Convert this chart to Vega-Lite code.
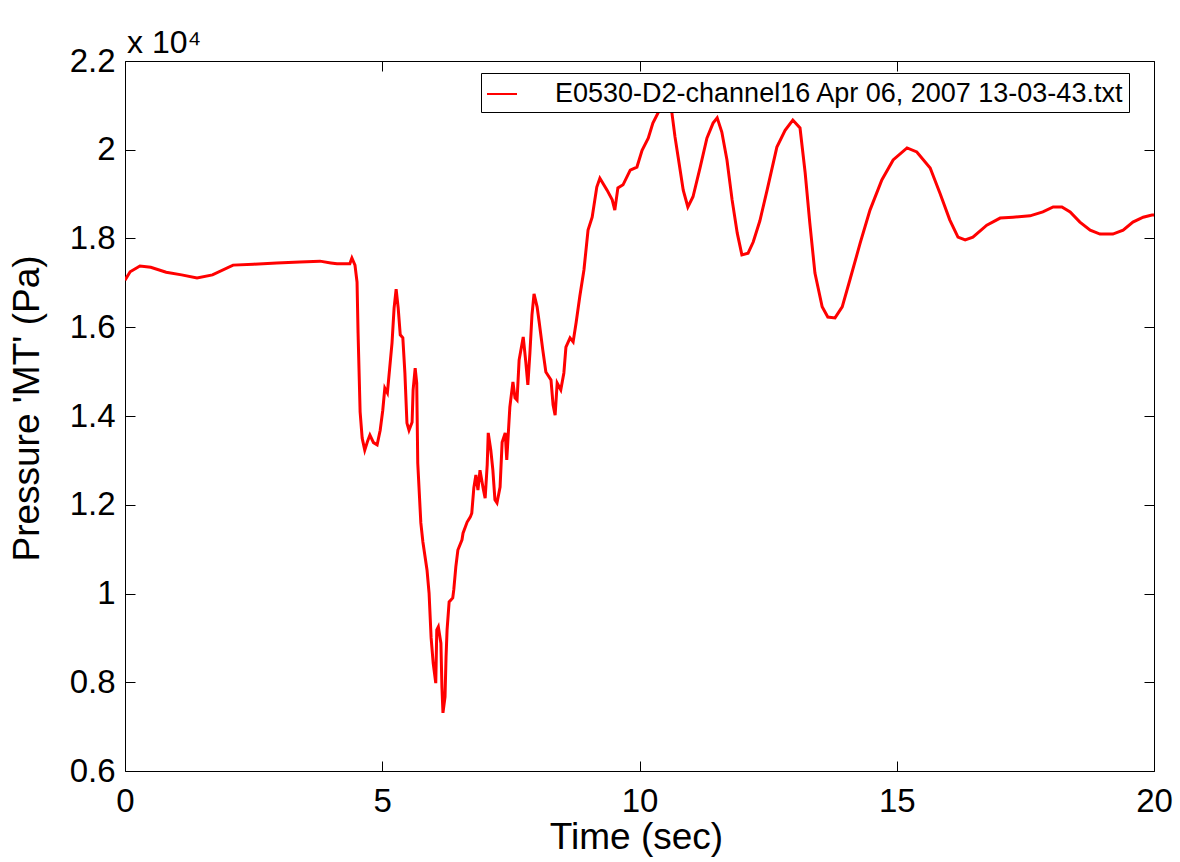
{
  "$schema": "https://vega.github.io/schema/vega-lite/v6.json",
  "width": 1029,
  "height": 710,
  "autosize": {"type": "none"},
  "padding": {"left": 125, "top": 61, "right": 26, "bottom": 91},
  "background": "white",
  "title": {"text": "x 10⁴", "anchor": "start", "frame": "group", "fontSize": 32, "font": "Liberation Sans", "fontWeight": "normal", "color": "black", "offset": -15, "dx": 2},
  "data": {"values": [
    {"t": 0.00, "p": 1.706}, {"t": 0.10, "p": 1.725}, {"t": 0.29, "p": 1.738}, {"t": 0.50, "p": 1.735}, {"t": 0.80, "p": 1.724},
    {"t": 1.10, "p": 1.718}, {"t": 1.40, "p": 1.711}, {"t": 1.70, "p": 1.718}, {"t": 2.10, "p": 1.740}, {"t": 2.50, "p": 1.742},
    {"t": 2.95, "p": 1.745}, {"t": 3.40, "p": 1.747}, {"t": 3.79, "p": 1.749}, {"t": 4.00, "p": 1.745}, {"t": 4.12, "p": 1.743},
    {"t": 4.37, "p": 1.743}, {"t": 4.41, "p": 1.756}, {"t": 4.47, "p": 1.740}, {"t": 4.51, "p": 1.702}, {"t": 4.53, "p": 1.587},
    {"t": 4.57, "p": 1.409}, {"t": 4.61, "p": 1.350}, {"t": 4.66, "p": 1.323}, {"t": 4.72, "p": 1.345}, {"t": 4.76, "p": 1.357},
    {"t": 4.83, "p": 1.340}, {"t": 4.90, "p": 1.335}, {"t": 4.96, "p": 1.368}, {"t": 5.01, "p": 1.413}, {"t": 5.05, "p": 1.463},
    {"t": 5.10, "p": 1.452}, {"t": 5.19, "p": 1.565}, {"t": 5.23, "p": 1.643}, {"t": 5.27, "p": 1.686}, {"t": 5.31, "p": 1.643},
    {"t": 5.35, "p": 1.583}, {"t": 5.40, "p": 1.576}, {"t": 5.44, "p": 1.497}, {"t": 5.48, "p": 1.384}, {"t": 5.52, "p": 1.368},
    {"t": 5.58, "p": 1.386}, {"t": 5.60, "p": 1.459}, {"t": 5.64, "p": 1.508}, {"t": 5.67, "p": 1.474}, {"t": 5.69, "p": 1.294},
    {"t": 5.75, "p": 1.159}, {"t": 5.79, "p": 1.116}, {"t": 5.87, "p": 1.053}, {"t": 5.91, "p": 1.001}, {"t": 5.95, "p": 0.900},
    {"t": 5.99, "p": 0.843}, {"t": 6.04, "p": 0.798}, {"t": 6.06, "p": 0.918}, {"t": 6.09, "p": 0.925}, {"t": 6.14, "p": 0.888},
    {"t": 6.16, "p": 0.789}, {"t": 6.18, "p": 0.731}, {"t": 6.22, "p": 0.767}, {"t": 6.24, "p": 0.857}, {"t": 6.26, "p": 0.918},
    {"t": 6.30, "p": 0.981}, {"t": 6.37, "p": 0.990}, {"t": 6.39, "p": 1.008}, {"t": 6.43, "p": 1.060}, {"t": 6.47, "p": 1.098},
    {"t": 6.55, "p": 1.121}, {"t": 6.57, "p": 1.136}, {"t": 6.65, "p": 1.161}, {"t": 6.71, "p": 1.172}, {"t": 6.74, "p": 1.181},
    {"t": 6.78, "p": 1.238}, {"t": 6.82, "p": 1.267}, {"t": 6.86, "p": 1.233}, {"t": 6.90, "p": 1.278}, {"t": 6.96, "p": 1.238},
    {"t": 7.00, "p": 1.215}, {"t": 7.04, "p": 1.290}, {"t": 7.06, "p": 1.362}, {"t": 7.11, "p": 1.323}, {"t": 7.15, "p": 1.278},
    {"t": 7.19, "p": 1.211}, {"t": 7.23, "p": 1.204}, {"t": 7.29, "p": 1.240}, {"t": 7.33, "p": 1.341}, {"t": 7.39, "p": 1.362},
    {"t": 7.42, "p": 1.301}, {"t": 7.48, "p": 1.420}, {"t": 7.54, "p": 1.477}, {"t": 7.58, "p": 1.441}, {"t": 7.62, "p": 1.436},
    {"t": 7.66, "p": 1.526}, {"t": 7.74, "p": 1.578}, {"t": 7.79, "p": 1.522}, {"t": 7.83, "p": 1.470}, {"t": 7.87, "p": 1.542},
    {"t": 7.91, "p": 1.628}, {"t": 7.95, "p": 1.675}, {"t": 8.01, "p": 1.646}, {"t": 8.05, "p": 1.612}, {"t": 8.12, "p": 1.549},
    {"t": 8.18, "p": 1.499}, {"t": 8.28, "p": 1.481}, {"t": 8.32, "p": 1.425}, {"t": 8.36, "p": 1.402}, {"t": 8.40, "p": 1.474},
    {"t": 8.47, "p": 1.459}, {"t": 8.53, "p": 1.497}, {"t": 8.57, "p": 1.555}, {"t": 8.65, "p": 1.576}, {"t": 8.71, "p": 1.567},
    {"t": 8.77, "p": 1.612}, {"t": 8.84, "p": 1.670}, {"t": 8.92, "p": 1.729}, {"t": 9.00, "p": 1.819}, {"t": 9.08, "p": 1.848},
    {"t": 9.17, "p": 1.916}, {"t": 9.23, "p": 1.936}, {"t": 9.37, "p": 1.909}, {"t": 9.47, "p": 1.887}, {"t": 9.52, "p": 1.864},
    {"t": 9.58, "p": 1.914}, {"t": 9.68, "p": 1.921}, {"t": 9.82, "p": 1.954}, {"t": 9.95, "p": 1.961}, {"t": 10.05, "p": 1.999},
    {"t": 10.17, "p": 2.026}, {"t": 10.26, "p": 2.060}, {"t": 10.36, "p": 2.083}, {"t": 10.45, "p": 2.12}, {"t": 10.55, "p": 2.12},
    {"t": 10.63, "p": 2.083}, {"t": 10.69, "p": 2.029}, {"t": 10.75, "p": 1.984}, {"t": 10.85, "p": 1.909}, {"t": 10.94, "p": 1.871},
    {"t": 11.04, "p": 1.894}, {"t": 11.18, "p": 1.961}, {"t": 11.31, "p": 2.026}, {"t": 11.43, "p": 2.060}, {"t": 11.51, "p": 2.072},
    {"t": 11.60, "p": 2.040}, {"t": 11.70, "p": 1.977}, {"t": 11.80, "p": 1.887}, {"t": 11.90, "p": 1.812}, {"t": 11.99, "p": 1.763},
    {"t": 12.11, "p": 1.767}, {"t": 12.21, "p": 1.792}, {"t": 12.34, "p": 1.840}, {"t": 12.48, "p": 1.909}, {"t": 12.67, "p": 2.006},
    {"t": 12.83, "p": 2.044}, {"t": 12.98, "p": 2.067}, {"t": 13.12, "p": 2.049}, {"t": 13.22, "p": 1.948}, {"t": 13.31, "p": 1.835},
    {"t": 13.41, "p": 1.722}, {"t": 13.55, "p": 1.646}, {"t": 13.66, "p": 1.623}, {"t": 13.80, "p": 1.621}, {"t": 13.94, "p": 1.646},
    {"t": 14.09, "p": 1.707}, {"t": 14.29, "p": 1.790}, {"t": 14.48, "p": 1.864}, {"t": 14.71, "p": 1.932}, {"t": 14.93, "p": 1.977},
    {"t": 15.20, "p": 2.004}, {"t": 15.39, "p": 1.995}, {"t": 15.65, "p": 1.959}, {"t": 15.84, "p": 1.902}, {"t": 16.03, "p": 1.842},
    {"t": 16.19, "p": 1.803}, {"t": 16.33, "p": 1.797}, {"t": 16.48, "p": 1.803}, {"t": 16.75, "p": 1.830}, {"t": 17.01, "p": 1.846},
    {"t": 17.26, "p": 1.848}, {"t": 17.59, "p": 1.851}, {"t": 17.84, "p": 1.860}, {"t": 18.04, "p": 1.871}, {"t": 18.21, "p": 1.871},
    {"t": 18.37, "p": 1.860}, {"t": 18.56, "p": 1.837}, {"t": 18.76, "p": 1.819}, {"t": 18.95, "p": 1.810}, {"t": 19.20, "p": 1.810},
    {"t": 19.40, "p": 1.819}, {"t": 19.59, "p": 1.837}, {"t": 19.79, "p": 1.848}, {"t": 19.96, "p": 1.853}, {"t": 20.00, "p": 1.853}
  ]},
  "transform": [{"calculate": "'E0530-D2-channel16 Apr 06, 2007 13-03-43.txt'", "as": "series"}],
  "layer": [
    {
      "mark": {"type": "line", "strokeWidth": 3, "clip": true},
      "encoding": {
        "x": {"field": "t", "type": "quantitative", "scale": {"domain": [0, 20], "nice": false},
              "axis": {"orient": "bottom", "values": [0, 5, 10, 15, 20], "labelPadding": 24, "labelFlush": false,
                       "title": "Time (sec)", "titleX": 511, "titleY": 77, "titleBaseline": "alphabetic", "titleAlign": "center"}},
        "y": {"field": "p", "type": "quantitative", "scale": {"domain": [0.6, 2.2], "nice": false, "zero": false},
              "axis": {"orient": "left", "values": [0.6, 0.8, 1.0, 1.2, 1.4, 1.6, 1.8, 2.0, 2.2], "format": ".2~f", "labelPadding": 20, "labelFlush": false,
                       "title": "Pressure 'MT' (Pa)", "titleX": -87, "titleY": 347, "titleAngle": -90, "titleBaseline": "alphabetic", "titleAlign": "center"}},
        "color": {"field": "series", "type": "nominal", "scale": {"range": ["#ff0000"]},
                  "legend": {"orient": "none", "legendX": 356, "legendY": 12, "title": null, "strokeColor": "black", "fillColor": "white",
                             "padding": 5, "symbolType": "stroke", "symbolSize": 900, "symbolStrokeWidth": 2, "labelFontSize": 27,
                             "labelFont": "Liberation Sans", "labelColor": "black", "labelLimit": 0, "labelOffset": 37, "cornerRadius": 0,
                             "labelExpr": "datum.label + '\u00a0\u00a0\u00a0'"}}
      }
    },
    {
      "mark": {"type": "line", "strokeOpacity": 0},
      "encoding": {
        "x": {"field": "t", "type": "quantitative", "axis": {"orient": "top", "values": [0, 5, 10, 15, 20], "labels": false, "title": null}},
        "y": {"field": "p", "type": "quantitative", "axis": {"orient": "right", "values": [0.6, 0.8, 1.0, 1.2, 1.4, 1.6, 1.8, 2.0, 2.2], "labels": false, "title": null}}
      }
    }
  ],
  "resolve": {"axis": {"x": "independent", "y": "independent"}},
  "config": {
    "view": {"stroke": null},
    "axis": {"grid": false, "domainColor": "#000", "tickColor": "#000", "labelColor": "#000", "titleColor": "#000",
             "labelFont": "Liberation Sans", "titleFont": "Liberation Sans", "labelFontSize": 33, "titleFontSize": 37,
             "titleFontWeight": "normal", "tickSize": -10, "domainWidth": 1, "tickWidth": 1}
  }
}
